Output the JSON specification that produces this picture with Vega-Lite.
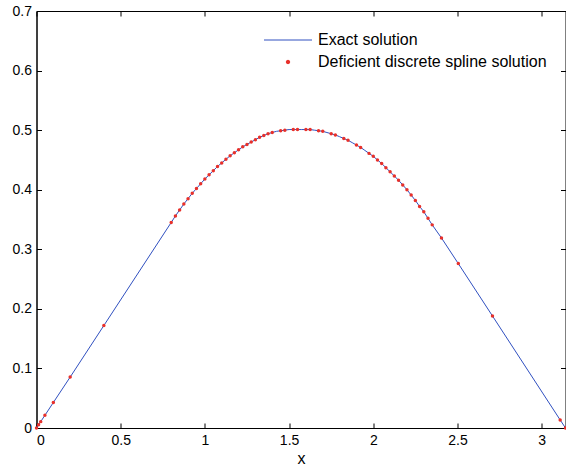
{
  "$schema": "https://vega.github.io/schema/vega-lite/v6.json",
  "width": 529,
  "height": 417,
  "autosize": {"type": "none"},
  "padding": {"left": 36.5, "top": 11, "right": 0, "bottom": 43},
  "background": "white",
  "config": {
    "font": "Liberation Sans",
    "view": {"stroke": "black", "strokeWidth": 1},
    "axis": {
      "grid": false,
      "domainColor": "black",
      "tickColor": "black",
      "labelColor": "black",
      "labelFont": "Liberation Sans",
      "labelFontSize": 14,
      "tickSize": -5,
      "labelPadding": 10,
      "titleFont": "Liberation Sans",
      "titleFontWeight": "normal",
      "titleColor": "black"
    }
  },
  "data": {
    "values": [
      {"x": 0, "y": 0, "dot": true},
      {"x": 0.0125, "y": 0.0054, "dot": true},
      {"x": 0.025, "y": 0.0107, "dot": true},
      {"x": 0.05, "y": 0.0213, "dot": true},
      {"x": 0.1, "y": 0.0428, "dot": true},
      {"x": 0.2, "y": 0.0855, "dot": true},
      {"x": 0.4, "y": 0.172, "dot": true},
      {"x": 0.8, "y": 0.345, "dot": true},
      {"x": 0.825, "y": 0.356, "dot": true},
      {"x": 0.85, "y": 0.366, "dot": true},
      {"x": 0.875, "y": 0.376, "dot": true},
      {"x": 0.9, "y": 0.385, "dot": true},
      {"x": 0.925, "y": 0.394, "dot": true},
      {"x": 0.95, "y": 0.402, "dot": true},
      {"x": 0.975, "y": 0.41, "dot": true},
      {"x": 1.0, "y": 0.418, "dot": true},
      {"x": 1.025, "y": 0.425, "dot": true},
      {"x": 1.05, "y": 0.432, "dot": true},
      {"x": 1.075, "y": 0.439, "dot": true},
      {"x": 1.1, "y": 0.445, "dot": true},
      {"x": 1.125, "y": 0.451, "dot": true},
      {"x": 1.15, "y": 0.457, "dot": true},
      {"x": 1.175, "y": 0.462, "dot": true},
      {"x": 1.2, "y": 0.467, "dot": true},
      {"x": 1.225, "y": 0.472, "dot": true},
      {"x": 1.25, "y": 0.476, "dot": true},
      {"x": 1.275, "y": 0.48, "dot": true},
      {"x": 1.3, "y": 0.484, "dot": true},
      {"x": 1.325, "y": 0.488, "dot": true},
      {"x": 1.35, "y": 0.491, "dot": true},
      {"x": 1.375, "y": 0.494, "dot": true},
      {"x": 1.4, "y": 0.496, "dot": true},
      {"x": 1.425, "y": 0.498, "dot": false},
      {"x": 1.45, "y": 0.499, "dot": true},
      {"x": 1.475, "y": 0.5, "dot": true},
      {"x": 1.5, "y": 0.501, "dot": false},
      {"x": 1.525, "y": 0.501, "dot": true},
      {"x": 1.55, "y": 0.501, "dot": true},
      {"x": 1.575, "y": 0.501, "dot": false},
      {"x": 1.6, "y": 0.501, "dot": true},
      {"x": 1.625, "y": 0.501, "dot": true},
      {"x": 1.65, "y": 0.5, "dot": false},
      {"x": 1.675, "y": 0.499, "dot": true},
      {"x": 1.7, "y": 0.498, "dot": true},
      {"x": 1.725, "y": 0.496, "dot": false},
      {"x": 1.75, "y": 0.494, "dot": true},
      {"x": 1.775, "y": 0.492, "dot": true},
      {"x": 1.8, "y": 0.489, "dot": false},
      {"x": 1.825, "y": 0.486, "dot": true},
      {"x": 1.85, "y": 0.483, "dot": true},
      {"x": 1.875, "y": 0.479, "dot": false},
      {"x": 1.9, "y": 0.475, "dot": true},
      {"x": 1.925, "y": 0.471, "dot": true},
      {"x": 1.95, "y": 0.466, "dot": false},
      {"x": 1.975, "y": 0.461, "dot": true},
      {"x": 2.0, "y": 0.456, "dot": true},
      {"x": 2.025, "y": 0.45, "dot": true},
      {"x": 2.05, "y": 0.444, "dot": true},
      {"x": 2.075, "y": 0.437, "dot": true},
      {"x": 2.1, "y": 0.43, "dot": true},
      {"x": 2.125, "y": 0.423, "dot": true},
      {"x": 2.15, "y": 0.416, "dot": true},
      {"x": 2.175, "y": 0.408, "dot": true},
      {"x": 2.2, "y": 0.4, "dot": true},
      {"x": 2.225, "y": 0.391, "dot": true},
      {"x": 2.25, "y": 0.382, "dot": true},
      {"x": 2.275, "y": 0.372, "dot": true},
      {"x": 2.3, "y": 0.363, "dot": true},
      {"x": 2.325, "y": 0.352, "dot": true},
      {"x": 2.35, "y": 0.341, "dot": true},
      {"x": 2.405, "y": 0.319, "dot": true},
      {"x": 2.505, "y": 0.276, "dot": true},
      {"x": 2.708, "y": 0.188, "dot": true},
      {"x": 3.11, "y": 0.0135, "dot": true},
      {"x": 3.14159, "y": 0, "dot": true}
    ]
  },
  "layer": [
    {
      "mark": {"type": "line", "strokeWidth": 1, "interpolate": "linear"},
      "encoding": {
        "x": {
          "field": "x", "type": "quantitative",
          "scale": {"domain": [0, 3.14159], "nice": false, "zero": false},
          "axis": {"orient": "bottom", "values": [0, 0.5, 1, 1.5, 2, 2.5, 3], "format": "~g", "title": "x", "titleFontSize": 16, "titlePadding": 3}
        },
        "y": {
          "field": "y", "type": "quantitative",
          "scale": {"domain": [0, 0.7], "nice": false},
          "axis": {"orient": "left", "values": [0, 0.1, 0.2, 0.3, 0.4, 0.5, 0.6, 0.7], "format": "~g", "title": null}
        },
        "color": {
          "datum": "Exact solution",
          "scale": {"domain": ["Exact solution", "Deficient discrete spline solution"], "range": ["#3050c0", "#e8302a"]},
          "legend": {
            "title": null,
            "orient": "none",
            "legendX": 243.5,
            "legendY": 21,
            "labelFont": "Liberation Sans",
            "labelFontSize": 16,
            "labelColor": "black",
            "labelLimit": 0,
            "symbolSize": 2304,
            "symbolStrokeWidth": 1,
            "symbolType": "stroke",
            "rowPadding": 6,
            "labelOffset": 22,
            "encode": {
              "symbols": {
                "update": {
                  "shape": {"signal": "datum.value === 'Exact solution' ? 'stroke' : 'circle'"},
                  "size": {"signal": "datum.value === 'Exact solution' ? 2304 : 12"},
                  "fill": {"signal": "datum.value === 'Exact solution' ? 'transparent' : '#e8302a'"},
                  "stroke": {"signal": "datum.value === 'Exact solution' ? '#3050c0' : 'transparent'"}
                }
              }
            }
          }
        }
      }
    },
    {
      "transform": [{"filter": "datum.dot"}],
      "mark": {"type": "point", "filled": true, "size": 12, "opacity": 1},
      "encoding": {
        "x": {"field": "x", "type": "quantitative", "axis": {"orient": "top", "values": [0, 0.5, 1, 1.5, 2, 2.5, 3], "labels": false, "title": null, "domain": false}},
        "y": {"field": "y", "type": "quantitative", "axis": {"orient": "right", "values": [0, 0.1, 0.2, 0.3, 0.4, 0.5, 0.6, 0.7], "labels": false, "title": null, "domain": false}},
        "color": {"datum": "Deficient discrete spline solution"}
      }
    }
  ]
}
